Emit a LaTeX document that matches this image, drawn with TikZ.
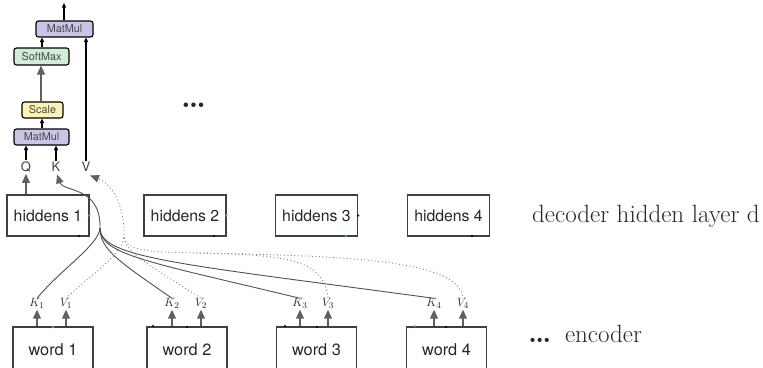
\documentclass[tikz,border=0pt]{standalone}
\usepackage{fontspec}
\newfontfamily\hv{TeX Gyre Heros}
\usetikzlibrary{arrows.meta}
\definecolor{mmpurple}{HTML}{CAC4E8}
\definecolor{smgreen}{HTML}{D3ECD8}
\definecolor{scyellow}{HTML}{FBF4B4}
\definecolor{linegray}{HTML}{505050}
\definecolor{dotgray}{HTML}{808080}
\definecolor{headgray}{HTML}{606060}
\definecolor{markcyan}{HTML}{40C8D8}
\begin{document}
\begin{tikzpicture}[x=1pt,y=-1pt,
  opbox/.style={draw=black, line width=1.1pt, rounded corners=2.5pt, inner sep=0pt,
    font=\hv\fontsize{10.8}{12}\selectfont, text=black!72},
  hbox/.style={draw=black!75, line width=1.2pt, minimum width=82pt, minimum height=41pt,
    inner sep=0pt, font=\hv\fontsize{15.8}{18}\selectfont, text=black!85},
  wbox/.style={draw=black!75, line width=1.2pt, minimum width=80pt, minimum height=46pt,
    inner sep=0pt, font=\hv\fontsize{16.3}{18}\selectfont, text=black!85},
  kvlab/.style={inner sep=1.5pt, text=black!85, font=\fontsize{13}{15}\selectfont},
  qkv/.style={inner sep=1.5pt, text=black!75, font=\hv\fontsize{13}{15}\selectfont},
  blackarrow/.style={-{Triangle[length=4.5pt,width=4pt]}, line width=1.1pt, draw=black},
  grayarrow/.style={-{Triangle[length=9pt,width=8pt,fill=headgray]}, line width=1.1pt, draw=headgray},
  kline/.style={draw=linegray, line width=0.9pt},
  vline/.style={draw=dotgray, line width=0.9pt, dash pattern=on 0.9pt off 2.6pt},
  grayhead/.style={-{Triangle[length=9pt,width=7.5pt,fill=headgray,color=headgray]}},
  bigtext/.style={inner sep=0pt, anchor=base west, font=\fontsize{25}{29}\selectfont, text=black!85},
  markdot/.style={inner sep=0pt, minimum size=2.4pt, circle, fill=#1}
]
\useasboundingbox (0,0) rectangle (763,367);
\clip (0,0) rectangle (763,367);

% attention module
\node[opbox, fill=mmpurple, minimum width=57pt, minimum height=16pt] (mm2) at (64.5,29) {MatMul};
\node[opbox, fill=smgreen, minimum width=55pt, minimum height=17pt] (sm) at (41.5,56.5) {SoftMax};
\node[opbox, fill=scyellow, minimum width=41pt, minimum height=16pt] (sc) at (42.5,110) {Scale};
\node[opbox, fill=mmpurple, minimum width=55pt, minimum height=16pt] (mm1) at (41.5,137) {MatMul};
\node[qkv] (Q) at (26,167) {Q};
\node[qkv] (K) at (56,167) {K};
\node[qkv] (V) at (86,167) {V};
\coordinate (out) at (64,3);

\draw[blackarrow] (mm2.north -| out) -- (out);
\draw[blackarrow] (sm.north -| 42,0) -- (mm2.south -| 42,0);
\draw[grayarrow] (sc.north -| 41,0) -- (sm.south -| 41,0);
\draw[blackarrow] (mm1.north -| 42,0) -- (sc.south -| 42,0);
\draw[blackarrow] (Q.north) -- (mm1.south -| Q);
\draw[blackarrow] (K.north) -- (mm1.south -| K);
\draw[blackarrow] (V.north) -- (mm2.south -| V);

% ellipsis
\node[bigtext, font=\fontsize{31}{35}\selectfont] (dots) at (181,107) {\textbf{\dots}};

% decoder hidden boxes
\node[hbox] (h1) at (48,215.5) {hiddens 1};
\node[hbox] (h2) at (185,215.5) {hiddens 2};
\node[hbox] (h3) at (316.5,215.5) {hiddens 3};
\node[hbox] (h4) at (448.5,215.5) {hiddens 4};
\node[bigtext] (dec) at (532,222) {decoder hidden layer d};

% encoder word boxes
\node[wbox] (w1) at (53,350) {word 1};
\node[wbox] (w2) at (187,350) {word 2};
\node[wbox] (w3) at (316.5,350) {word 3};
\node[wbox] (w4) at (446.5,350) {word 4};
\node[bigtext] (enc) at (528,342) {{\fontsize{29}{33}\selectfont\textbf{\dots}}\hspace{6pt} encoder};

% key / value labels
\node[kvlab] (K1) at (37,303) {$K_1$};
\node[kvlab] (V1) at (66,303) {$V_1$};
\node[kvlab] (K2) at (172,303) {$K_2$};
\node[kvlab] (V2) at (201,303) {$V_2$};
\node[kvlab] (K3) at (300,303) {$K_3$};
\node[kvlab] (V3) at (328,303) {$V_3$};
\node[kvlab] (K4) at (434,303) {$K_4$};
\node[kvlab] (V4) at (463,303) {$V_4$};

\foreach \w/\k/\v in {w1/K1/V1, w2/K2/V2, w3/K3/V3, w4/K4/V4}{
  \draw[grayarrow] (\w.north -| \k) -- (\k.south);
  \draw[grayarrow] (\w.north -| \v) -- (\v.south);
}

% query arrow
\draw[grayarrow] (h1.north -| Q) -- (Q.south);

% key curves
\coordinate (J) at (100,228);
\draw[kline, grayhead] (J) .. controls (101,186) and (63,192) .. ([xshift=1pt,yshift=-1pt]K.south);
\draw[kline] (J) .. controls (99,245) and (60,270) .. ([yshift=-2pt]K1.north);
\draw[kline] (J) .. controls (100,250) and (120,262) .. ([yshift=-2pt]K2.north);
\draw[kline] (J) .. controls (100,255) and (150,262) .. ([yshift=-2pt]K3.north);
\draw[kline] (J) .. controls (100,258) and (180,264) .. ([yshift=-2pt]K4.north);

% value curves
\coordinate (D) at (124,238);
\coordinate (D2) at (200,253);
\draw[vline, grayhead] (D) .. controls (125,205) and (112,184) .. ([xshift=4pt,yshift=-2pt]V.south);
\draw[vline] (D) .. controls (121,256) and (90,275) .. ([yshift=-2pt]V1.north);
\draw[vline] (D) .. controls (128,255) and (150,265) .. ([yshift=-2pt]V2.north);
\draw[vline] (D) .. controls (127,250) and (145,252) .. (D2);
\draw[vline] (D2) .. controls (290,255) and (324,260) .. ([yshift=-2pt]V3.north);
\draw[vline] (D2) .. controls (350,256) and (460,260) .. ([yshift=-2pt]V4.north);

% small anchor marks on the boxes
\node[markdot=markcyan] (m1) at (h1.east) {};
\node[markdot=markcyan] (m2) at (h2.east) {};
\node[markdot=black] (m3) at (h3.east) {};
\node[markdot=markcyan] (m4) at (346,236) {};
\node[markdot=black] (m5) at (79,236) {};
\node[markdot=black] (m6) at (214,236) {};
\node[markdot=black] (m7) at (472,236) {};
\node[markdot=markcyan] (m8) at (53,327) {};
\node[markdot=black] (m9) at (187,327) {};
\node[markdot=black] (m10) at (317,327) {};
\node[markdot=black] (m11) at (446,327) {};
\node[markdot=black] (m12) at (153,326) {};
\node[markdot=black] (m13) at (285,326) {};
\node[markdot=markcyan] (m14) at (415,326) {};
\end{tikzpicture}
\end{document}
